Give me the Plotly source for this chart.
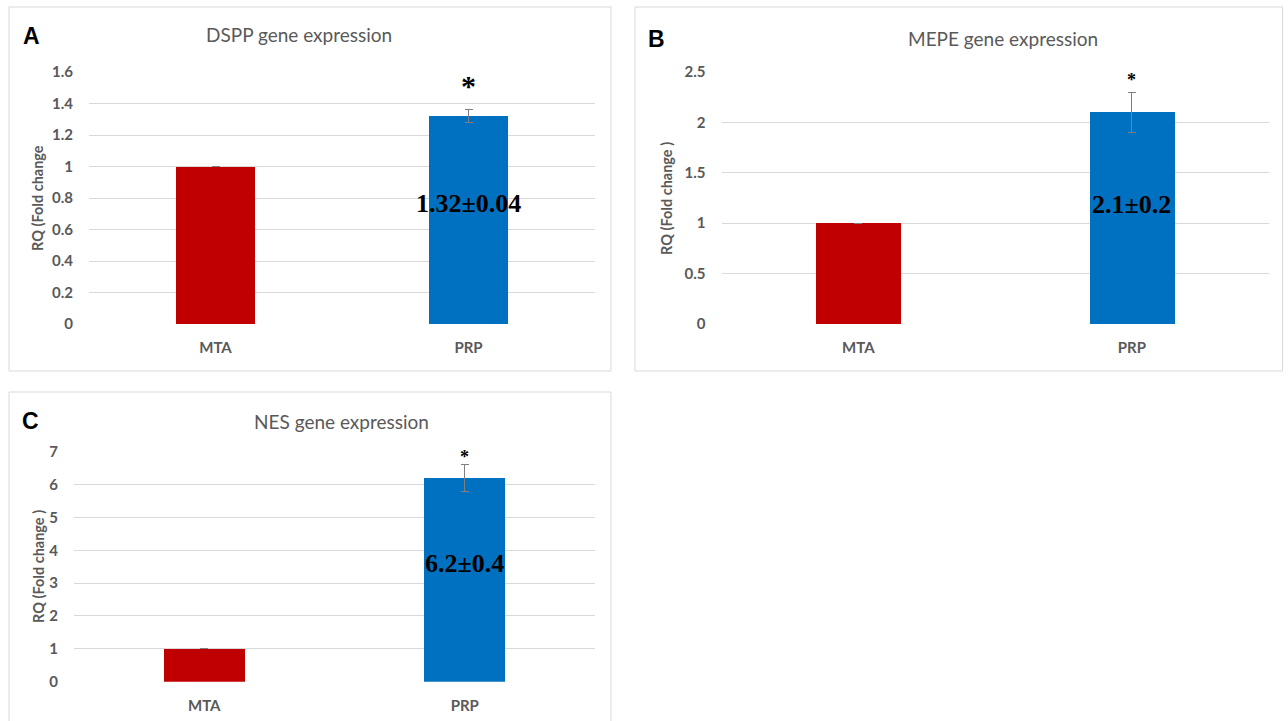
import plotly.graph_objects as go

# ---------------- data ----------------
categories = ["MTA", "PRP"]
bar_colors = ["#C00000", "#0070C0"]

dspp_values = [1.0, 1.32]
dspp_errors = [0.0, 0.04]
mepe_values = [1.0, 2.1]
mepe_errors = [0.0, 0.2]
nes_values = [1.0, 6.2]
nes_errors = [0.0, 0.4]

panel_letters = ["A", "B", "C"]
panel_titles = ["DSPP gene expression", "MEPE gene expression", "NES gene expression"]
value_labels = ["1.32±0.04", "2.1±0.2", "6.2±0.4"]
y_titles = ["RQ (Fold change", "RQ (Fold change )", "RQ (Fold change )"]
y_max = [1.6, 2.5, 7]
y_step = [0.2, 0.5, 1]

# ---------------- layout geometry (pixels) ----------------
W, H = 1288, 721
def fx(px):
    return px / W
def fy(py):
    return 1 - py / H

# plot areas: (x0, x1, ytop, ybottom)
areas = [(89, 595, 72, 324), (721.5, 1268.7, 72, 324), (74, 595, 451.7, 681.7)]
# panel borders: (x0, x1, y0, y1)
borders = [(9, 611, 7, 371), (635, 1282.5, 7, 371), (9, 611, 392, 745)]
letter_pos = [(31, 36), (656, 39), (30, 421)]
title_pos = [(299, 35), (1003, 39), (342, 421)]
ytitle_pos = [(37, 198), (666, 198), (38, 567)]
label_frac = [0.58, 0.563, 0.58]
star_size = [30, 18, 18]
star_shift = [6, 0, -4]

GRAY = "#595959"
SANS = "Lato, Calibri, sans-serif"
SERIF = "Times New Roman, Liberation Serif, serif"

fig = go.Figure()
series = [(dspp_values, dspp_errors), (mepe_values, mepe_errors), (nes_values, nes_errors)]
annotations = []
shapes = []

for i, (vals, errs) in enumerate(series):
    sx = "" if i == 0 else str(i + 1)
    fig.add_trace(go.Bar(
        x=categories, y=vals,
        marker=dict(color=bar_colors, line=dict(width=0)),
        width=0.31,
        error_y=dict(type="data", array=errs, visible=True, color="#7f7f7f",
                     thickness=1, width=4),
        xaxis="x" + sx, yaxis="y" + sx, showlegend=False,
    ))
    x0, x1, yt, yb = areas[i]
    fig.update_layout(**{
        "xaxis" + sx: dict(
            domain=[fx(x0), fx(x1)], range=[-0.5, 1.5], anchor="y" + sx,
            showgrid=False, zeroline=False, showline=False, automargin=False,
            ticks="outside", ticklen=10, tickcolor="rgba(0,0,0,0)",
            tickfont=dict(family=SANS, size=15, color=GRAY, weight="bold"),
        ),
        "yaxis" + sx: dict(
            domain=[fy(yb), fy(yt)], range=[0, y_max[i]], anchor="x" + sx,
            dtick=y_step[i], tick0=0, automargin=False,
            showgrid=True, gridcolor="#D9D9D9", gridwidth=1,
            zeroline=False, showline=False,
            ticks="outside", ticklen=12, tickcolor="rgba(0,0,0,0)",
            tickfont=dict(family=SANS, size=15, color=GRAY, weight="bold"),
        ),
    })
    # panel border
    bx0, bx1, by0, by1 = borders[i]
    shapes.append(dict(type="rect", xref="paper", yref="paper",
                       x0=fx(bx0), x1=fx(bx1), y0=fy(by1), y1=fy(by0),
                       line=dict(color="#D9D9D9", width=1), layer="below"))
    # panel letter
    lx, ly = letter_pos[i]
    annotations.append(dict(text=panel_letters[i], x=fx(lx), y=fy(ly), xref="paper", yref="paper",
                            showarrow=False, xanchor="center", yanchor="middle",
                            font=dict(family="Arial, Liberation Sans, sans-serif", size=23,
                                      color="#000000", weight="bold")))
    # panel title
    tx, ty = title_pos[i]
    annotations.append(dict(text=panel_titles[i], x=fx(tx), y=fy(ty), xref="paper", yref="paper",
                            showarrow=False, xanchor="center", yanchor="middle",
                            font=dict(family=SANS, size=19, color=GRAY)))
    # y-axis title
    yx, yy = ytitle_pos[i]
    annotations.append(dict(text=y_titles[i], x=fx(yx), y=fy(yy), xref="paper", yref="paper",
                            showarrow=False, xanchor="center", yanchor="middle", textangle=-90,
                            font=dict(family=SANS, size=14.5, color=GRAY, weight="bold")))
    # value label inside PRP bar
    annotations.append(dict(text=value_labels[i], x=categories[1], y=vals[1] * label_frac[i],
                            xref="x" + sx, yref="y" + sx, showarrow=False,
                            xanchor="center", yanchor="middle",
                            font=dict(family=SERIF, size=26, color="#000000", weight="bold")))
    # significance asterisk
    annotations.append(dict(text="*", x=categories[1], y=vals[1] + errs[1],
                            xref="x" + sx, yref="y" + sx, showarrow=False,
                            xanchor="center", yanchor="bottom", yshift=star_shift[i],
                            font=dict(family=SERIF, size=star_size[i], color="#000000", weight="bold")))

fig.update_layout(
    width=W, height=H,
    margin=dict(l=0, r=0, t=0, b=0, pad=0, autoexpand=False),
    paper_bgcolor="white", plot_bgcolor="white",
    bargap=0, annotations=annotations, shapes=shapes,
)

fig.write_html("out.html", config={"displayModeBar": False},
               post_script="document.body.style.margin='0';document.body.style.overflow='hidden';")
